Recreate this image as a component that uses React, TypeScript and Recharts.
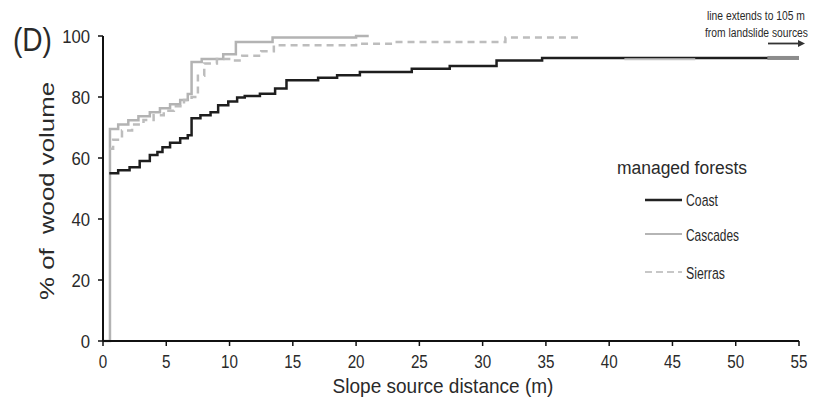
import React from 'react';
import { LineChart, Line, XAxis, YAxis, Customized } from 'recharts';

const xTicks = [0, 5, 10, 15, 20, 25, 30, 35, 40, 45, 50, 55];
const yTicks = [0, 20, 40, 60, 80, 100];

const coastX = [0.5, 1.2, 2.1, 2.9, 3.7, 4.3, 4.7, 5.3, 6.1, 6.7, 7.0, 7.7, 8.5, 9.1, 9.9, 10.6, 11.2, 12.4, 13.6, 14.5, 17.0, 18.5, 20.3, 24.4, 27.4, 31.1, 34.7, 55];
const coastY = [55, 56, 57, 59, 61, 62, 63.5, 65, 66.5, 67.5, 73, 74, 75, 77.3, 78.5, 79.8, 80.3, 81.1, 82.8, 85.5, 86.3, 87.1, 88.2, 89.3, 90.2, 92, 92.8, 92.8];

const cascadesX = [0, 0.55, 1.2, 2.0, 2.8, 3.7, 4.5, 5.3, 6.1, 6.7, 7.0, 7.8, 9.5, 10.5, 13.4, 20.0, 21.0];
const cascadesY = [0, 69.5, 71, 72.4, 73.7, 75, 76.3, 77.6, 79, 81, 91.5, 92.5, 94, 98, 99.5, 100, 100];

const sierrasX = [0.5, 0.8, 1.5, 2.3, 3.2, 4.0, 4.8, 5.6, 6.4, 7.0, 7.5, 8.0, 9.0, 10.2, 11.0, 12.5, 13.5, 20.0, 23.0, 31.8, 37.9];
const sierrasY = [63, 66, 69, 71, 72.5, 74, 75.5, 77, 79, 80, 87, 91, 92.5, 92, 93.5, 95, 97, 97.5, 98, 99.5, 99.5];

const overlapAX = [41.2, 46.8];
const overlapAY = [92.4, 92.4];
const overlapBX = [52.5, 55];
const overlapBY = [92.8, 92.8];

const toPts = (xs: number[], ys: number[]) => xs.map((x, i) => ({ x, y: ys[i] }));

const coast = toPts(coastX, coastY);
const cascades = toPts(cascadesX, cascadesY);
const sierras = toPts(sierrasX, sierrasY);
const overlapA = toPts(overlapAX, overlapAY);
const overlapB = toPts(overlapBX, overlapBY);

const FAMILY = 'Liberation Sans';
const FONT = '"Liberation Sans", Arial, sans-serif';
const TXT = '#2a2a2a';

let _ctx: CanvasRenderingContext2D | null = null;
const measure = (t: string, size: number) => {
  if (!_ctx) _ctx = document.createElement('canvas').getContext('2d');
  if (!_ctx) return t.length * size * 0.5;
  _ctx.font = `${size}px "${FAMILY}"`;
  return _ctx.measureText(t).width;
};

type FitProps = { x: number; y: number; w: number; size: number; text: string; anchor?: 'start' | 'middle' | 'end'; rotate?: number };
const FitText = ({ x, y, w, size, text, anchor = 'start', rotate = 0 }: FitProps) => {
  const sx = w / measure(text, size);
  return (
    <text
      transform={`translate(${x},${y})${rotate ? ` rotate(${rotate})` : ''} scale(${sx.toFixed(3)},1)`}
      x={0}
      y={0}
      fontSize={size}
      textAnchor={anchor}
      fontFamily={FONT}
      fill={TXT}
      style={{ whiteSpace: 'pre' }}
    >
      {text}
    </text>
  );
};

const XTick = (props: any) => {
  const { x, y, payload } = props;
  return (
    <text
      transform={`translate(${x},${y}) scale(0.8,1)`}
      x={0}
      y={0}
      dy={16}
      textAnchor="middle"
      fontSize={19}
      fontFamily={FONT}
      fill={TXT}
    >
      {payload.value}
    </text>
  );
};

const YTick = (props: any) => {
  const { x, y, payload } = props;
  return (
    <text
      transform={`translate(${x},${y}) scale(0.88,1)`}
      x={0}
      y={0}
      dy={6.5}
      textAnchor="end"
      fontSize={19}
      fontFamily={FONT}
      fill={TXT}
    >
      {payload.value}
    </text>
  );
};

const Decor = () => (
  <g>
    <FitText x={13} y={51} w={39} size={33} text="(D)" />
    <FitText x={443} y={393} w={221} size={20} anchor="middle" text="Slope source distance (m)" />
    <FitText x={54} y={191} w={218} size={20} anchor="middle" rotate={-90} text={'% of\u00a0\u00a0wood volume'} />
    <FitText x={617} y={174} w={130} size={19} text="managed forests" />
    <line x1={645} y1={200} x2={682} y2={200} stroke="#222" strokeWidth={2.5} />
    <FitText x={686} y={206} w={32} size={17} text="Coast" />
    <line x1={645} y1={234} x2={682} y2={234} stroke="#b5b5b5" strokeWidth={2} />
    <FitText x={686} y={241} w={53} size={17} text="Cascades" />
    <line x1={645} y1={272} x2={682} y2={272} stroke="#b5b5b5" strokeWidth={1.5} strokeDasharray="7 4" />
    <FitText x={686} y={279} w={39} size={17} text="Sierras" />
    <FitText x={707} y={20} w={98} size={13.5} text="line extends to 105 m" />
    <FitText x={705} y={37} w={103} size={13.5} text="from landslide sources" />
    <line x1={768} y1={43.5} x2={800} y2={43.5} stroke="#333" strokeWidth={1.8} />
    <path d="M798,40 L805,43.5 L798,47 Z" fill="#333" />
  </g>
);

export default function App() {
  return (
    <div style={{ position: 'absolute', left: 0, top: 0, width: 814, height: 408, background: '#fff' }}>
      <LineChart width={814} height={408} margin={{ top: 36, right: 15, bottom: 37, left: 43 }}>
        <XAxis
          type="number"
          dataKey="x"
          domain={[0, 55]}
          ticks={xTicks}
          allowDataOverflow
          height={30}
          tickSize={5}
          tickMargin={6}
          axisLine={{ stroke: '#111', strokeWidth: 2 }}
          tickLine={{ stroke: '#111', strokeWidth: 1.5 }}
          tick={<XTick />}
        />
        <YAxis
          type="number"
          dataKey="y"
          domain={[0, 100]}
          ticks={yTicks}
          width={60}
          tickSize={5}
          tickMargin={8}
          axisLine={{ stroke: '#111', strokeWidth: 2 }}
          tickLine={{ stroke: '#111', strokeWidth: 1.5 }}
          tick={<YTick />}
        />
        <Line data={cascades} dataKey="y" type="stepAfter" stroke="#b3b3b3" strokeWidth={2.5} dot={false} isAnimationActive={false} />
        <Line data={sierras} dataKey="y" type="stepAfter" stroke="#bdbdbd" strokeWidth={2.5} strokeDasharray="7 5" dot={false} isAnimationActive={false} />
        <Line data={coast} dataKey="y" type="stepAfter" stroke="#1e1e1e" strokeWidth={2.5} dot={false} isAnimationActive={false} />
        <Line data={overlapA} dataKey="y" type="linear" stroke="#c4c4c4" strokeWidth={2} dot={false} isAnimationActive={false} />
        <Line data={overlapB} dataKey="y" type="linear" stroke="#8c8c8c" strokeWidth={4} dot={false} isAnimationActive={false} />
        <Customized component={Decor} />
      </LineChart>
    </div>
  );
}
